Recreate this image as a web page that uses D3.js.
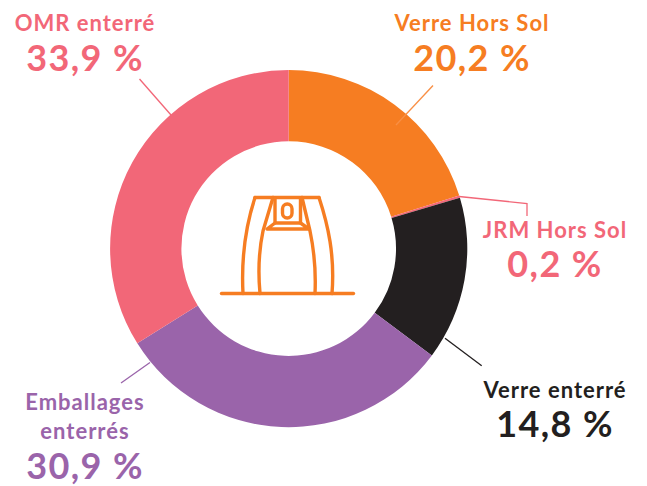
<!DOCTYPE html>
<html><head><meta charset="utf-8">
<script src="https://cdn.jsdelivr.net/npm/d3@7"></script>
<style>html,body{margin:0;padding:0;background:#fff}svg{display:block}text{font-family:Lato,sans-serif;font-weight:700;text-anchor:middle}</style>
</head><body><svg id="c" width="647" height="486"></svg>
<script>
const categories=["Verre Hors Sol","JRM Hors Sol","Verre enterré","Emballages enterrés","OMR enterré"];
const values=[20.2,0.2,14.8,30.9,33.9];
const valueLabels=["20,2 %","0,2 %","14,8 %","30,9 %","33,9 %"];
const colors=["#f67d22","#f26778","#231f20","#9a64aa","#f26778"];
const nameLines=[["Verre Hors Sol"],["JRM Hors Sol"],["Verre enterré"],["Emballages","enterrés"],["OMR enterré"]];
const svg=d3.select("#c");
const cx=288.7,cy=248.6,R=178.6,r=107.3;
const pie=d3.pie().sort(null)(values);
const arc=d3.arc().innerRadius(r).outerRadius(R);
const g=svg.append("g").attr("transform",`translate(${cx},${cy})`);
g.selectAll("path").data(pie).join("path").attr("d",arc).attr("fill",(d,i)=>colors[i]);

const leaders=[
 [[433,85.5],[396,125]],
 [[459,196.5],[527,203.5],[527,216]],
 [[481.7,365.7],[445,338.3]],
 [[121,383],[150,362.5]],
 [[139.5,79],[171,115]]
];
const leaderColors=["#f98f45","#f26778","#231f20","#9a64aa","#f26778"];
svg.selectAll("path.lead").data(leaders).join("path").attr("class","lead")
 .attr("d",d3.line()).attr("fill","none").attr("stroke-width",1.3)
 .attr("stroke",(d,i)=>leaderColors[i]);

const labelPos=[[472,[31],71],[555,[238],277],[555,[398],437],[85,[410,439],479],[85,[31],71]];
categories.forEach((c,i)=>{
 const [x,ys,vy]=labelPos[i];
 nameLines[i].forEach((t,j)=>{
  svg.append("text").attr("x",x).attr("y",ys[j]).attr("font-size",22).attr("letter-spacing",1).attr("fill",colors[i]).text(t);
 });
 svg.append("text").attr("x",x).attr("y",vy).attr("font-size",36).attr("letter-spacing",1.4).attr("fill",colors[i]).text(valueLabels[i]);
});

// icon
const ic=svg.append("g").attr("fill","none").attr("stroke","#f67d22").attr("stroke-width",3.4).attr("stroke-linecap","round").attr("stroke-linejoin","round");
[
 "M221.5,293.5H353.5",
 "M255,197.5H319",
 "M255,197.5C246,225 241,255 243,293.5",
 "M319,197.5C328,225 335,255 332,293.5",
 "M273,197.5L263,231C259,250 258,272 260,293.5",
 "M302,197.5L310,231C314,250 316,272 315,293.5",
 "M275,198V223H300.5V198",
 "M275,223L267,229H309L300.5,223",
].forEach(d=>ic.append("path").attr("d",d));
ic.append("rect").attr("x",282.5).attr("y",204).attr("width",9.5).attr("height",14).attr("rx",4.7);
</script></body></html>
